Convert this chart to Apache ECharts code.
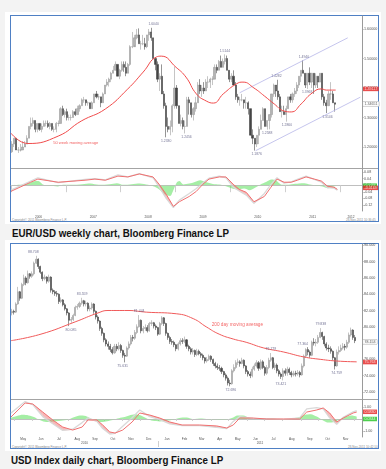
<!DOCTYPE html>
<html><head><meta charset="utf-8">
<script src="https://cdn.jsdelivr.net/npm/echarts@6/dist/echarts.min.js"></script>
<style>
body{margin:0;width:386px;height:469px;background:#f3f3f3;position:relative;overflow:hidden;font-family:"Liberation Sans",Arial,sans-serif}
.box{position:absolute;background:#fff}
.frame{position:absolute;border:1px solid #4f80c4;box-sizing:border-box}
.cap{position:absolute;font-weight:bold;font-size:10.5px;line-height:10.5px;color:#111;white-space:nowrap;transform:scaleX(0.93);transform-origin:0 0}
.sep{position:absolute;background:#a4a4a4}
.tiny{position:absolute;font-size:3px;line-height:3px;color:#8a8a8a;white-space:nowrap}
#chart{position:absolute;left:0;top:0;width:386px;height:469px}
</style></head><body>
<div class="box" style="left:5px;top:12px;width:376px;height:212px"></div>
<div class="box" style="left:5px;top:240px;width:376px;height:211px"></div>
<div class="frame" style="left:10px;top:15px;width:369px;height:207px"></div>
<div class="frame" style="left:10px;top:243px;width:369px;height:206px"></div>
<div class="sep" style="left:11px;top:167.5px;width:367px;height:1.6px"></div>
<div class="sep" style="left:11px;top:398.8px;width:367px;height:1.6px"></div>
<div class="tiny" style="left:12px;top:219px">Copyright© 2011 Bloomberg Finance L.P.</div>
<div class="tiny" style="left:346px;top:219px">28-Nov-2011 10:36:45</div>
<div class="tiny" style="left:12px;top:446px">Copyright© 2011 Bloomberg Finance L.P.</div>
<div class="tiny" style="left:348px;top:446px">28-Nov-2011 10:42:10</div>
<div class="cap" style="left:12px;top:228px">EUR/USD weekly chart, Bloomberg Finance LP</div>
<div class="cap" style="left:11px;top:454.6px">USD Index daily chart, Bloomberg Finance LP</div>
<div id="chart"></div>
<script>
// ---------------- EUR/USD weekly (two-week bars) ----------------
const eurStartYear = 2006, eurBarsPerYear = 26, eurOpen0 = 1.184;
const eurClose = [
1.21,1.23,1.19,1.19,1.19,1.20,1.21,1.23,1.27,1.28,1.29,1.26,1.28,1.26,1.27,1.28,1.28,1.27,1.28,1.26,1.26,1.28,1.28,1.33,1.31,1.32,
1.30,1.30,1.30,1.32,1.31,1.33,1.34,1.36,1.36,1.35,1.35,1.33,1.35,1.38,1.37,1.37,1.35,1.38,1.41,1.42,1.43,1.45,1.46,1.48,1.44,1.46,
1.48,1.47,1.45,1.48,1.54,1.54,1.57,1.58,1.55,1.55,1.55,1.54,1.58,1.59,1.57,1.50,1.48,1.43,1.44,1.38,1.34,1.27,1.26,1.27,1.34,1.40,
1.34,1.28,1.29,1.27,1.27,1.36,1.35,1.31,1.33,1.35,1.41,1.39,1.40,1.39,1.42,1.42,1.43,1.43,1.47,1.46,1.49,1.47,1.49,1.50,1.46,1.43,
1.44,1.41,1.37,1.36,1.36,1.36,1.35,1.35,1.33,1.24,1.23,1.21,1.24,1.26,1.29,1.33,1.27,1.29,1.31,1.38,1.41,1.39,1.37,1.32,1.32,1.31,
1.33,1.37,1.36,1.38,1.39,1.41,1.44,1.46,1.45,1.41,1.45,1.42,1.45,1.41,1.44,1.42,1.45,1.37,1.35,1.34,1.38,1.38,1.35,1.345];
const eurHigh = [
1.22,1.23,1.23,1.20,1.21,1.22,1.22,1.24,1.27,1.30,1.30,1.29,1.28,1.28,1.28,1.29,1.29,1.29,1.285,1.28,1.27,1.285,1.29,1.335,1.34,1.325,
1.33,1.31,1.31,1.325,1.33,1.34,1.345,1.365,1.37,1.36,1.355,1.35,1.355,1.38,1.39,1.38,1.37,1.385,1.41,1.43,1.435,1.455,1.475,1.49,1.48,1.465,
1.49,1.49,1.49,1.485,1.545,1.59,1.58,1.60,1.602,1.56,1.58,1.57,1.58,1.60,1.604,1.57,1.50,1.49,1.45,1.48,1.39,1.35,1.30,1.29,1.345,1.472,
1.41,1.34,1.31,1.30,1.29,1.37,1.37,1.35,1.335,1.37,1.42,1.43,1.41,1.42,1.43,1.44,1.435,1.44,1.48,1.48,1.495,1.51,1.50,1.514,1.51,1.46,
1.45,1.46,1.42,1.38,1.37,1.38,1.36,1.37,1.355,1.33,1.26,1.23,1.24,1.27,1.31,1.335,1.33,1.29,1.31,1.38,1.415,1.41,1.428,1.38,1.34,1.34,
1.34,1.37,1.38,1.385,1.40,1.42,1.44,1.46,1.494,1.45,1.45,1.47,1.45,1.45,1.45,1.44,1.45,1.45,1.38,1.36,1.39,1.42,1.39,1.35];
const eurLow = [
1.18,1.20,1.19,1.18,1.185,1.19,1.20,1.21,1.23,1.26,1.27,1.25,1.25,1.255,1.25,1.27,1.27,1.265,1.26,1.255,1.25,1.25,1.27,1.28,1.305,1.30,
1.29,1.29,1.29,1.30,1.305,1.31,1.32,1.34,1.35,1.34,1.34,1.33,1.33,1.35,1.365,1.36,1.335,1.35,1.38,1.405,1.405,1.42,1.45,1.46,1.44,1.43,
1.455,1.455,1.44,1.45,1.475,1.535,1.545,1.565,1.55,1.53,1.545,1.53,1.535,1.56,1.56,1.50,1.46,1.42,1.39,1.38,1.33,1.233,1.25,1.24,1.25,1.33,
1.33,1.28,1.27,1.26,1.246,1.27,1.31,1.30,1.29,1.32,1.35,1.38,1.37,1.38,1.39,1.40,1.40,1.41,1.43,1.45,1.46,1.47,1.47,1.48,1.46,1.42,
1.42,1.41,1.36,1.35,1.34,1.355,1.33,1.33,1.31,1.24,1.21,1.188,1.20,1.21,1.26,1.29,1.27,1.259,1.26,1.30,1.37,1.37,1.36,1.32,1.30,1.31,
1.286,1.33,1.35,1.35,1.37,1.38,1.40,1.42,1.45,1.40,1.397,1.41,1.40,1.38,1.40,1.40,1.42,1.36,1.34,1.315,1.34,1.36,1.35,1.32];
// 50 week moving average
const eurMaX = [2006.0,2006.31,2006.86,2007.28,2007.72,2008.13,2008.41,2008.65,2008.74,2009.01,2009.19,2009.38,2009.56,2009.69,2009.87,2010.11,2010.23,2010.43,2010.62,2010.80,2010.98,2011.11,2011.29,2011.47,2011.66,2011.75,2011.92];
const eurMa  = [1.247,1.212,1.237,1.288,1.329,1.397,1.454,1.505,1.508,1.470,1.437,1.380,1.356,1.349,1.380,1.414,1.420,1.400,1.373,1.346,1.322,1.319,1.346,1.380,1.397,1.393,1.393];
// trend channel
const eurChanUpper = [[2010.17,1.384],[2012.14,1.570]];
const eurChanLower = [[2010.46,1.1876],[2012.37,1.369]];
// indicator panel
const eurIndX   = [2006.0,2006.36,2006.49,2006.86,2007.35,2007.53,2007.72,2007.95,2008.13,2008.34,2008.59,2008.70,2008.83,2008.96,2009.07,2009.25,2009.38,2009.50,2009.61,2009.80,2009.92,2010.05,2010.16,2010.29,2010.43,2010.62,2010.74,2010.85,2010.98,2011.11,2011.22,2011.38,2011.53,2011.66,2011.77,2011.89,2011.95];
const eurSignal = [-0.037,0.018,0.037,0.018,0.03,0.037,0.03,0.055,0.05,0.068,0.05,0.006,-0.055,-0.128,-0.1,-0.068,-0.037,0.006,0.037,0.05,0.05,0.006,-0.025,-0.043,-0.1,-0.068,-0.012,0.037,0.018,0.018,0.03,0.05,0.037,0.025,-0.006,-0.012,-0.025];
const eurMacd   = [-0.03,0.025,0.045,0.015,0.035,0.04,0.032,0.062,0.05,0.07,0.045,-0.01,-0.08,-0.135,-0.09,-0.05,-0.02,0.015,0.042,0.055,0.045,-0.01,-0.035,-0.06,-0.11,-0.05,0.005,0.045,0.012,0.02,0.035,0.055,0.035,0.018,-0.015,-0.018,-0.03];
const eurHistX = [2006.0,2006.15,2006.3,2006.4,2006.5,2006.58,2006.7,2006.85,2006.95,2007.1,2007.3,2007.45,2007.6,2007.8,2007.93,2008.05,2008.2,2008.35,2008.5,2008.62,2008.72,2008.8,2008.9,2008.96,2009.02,2009.07,2009.14,2009.25,2009.35,2009.45,2009.55,2009.68,2009.8,2009.92,2010.02,2010.12,2010.25,2010.35,2010.45,2010.55,2010.65,2010.75,2010.83,2010.92,2011.0,2011.12,2011.25,2011.35,2011.45,2011.57,2011.68,2011.78,2011.87,2011.95];
const eurHist  = [0,0.003,0.008,0.022,0.025,0.005,-0.004,-0.008,0.003,0.002,0.006,0.01,0.002,0.006,0.012,0.002,0.006,0.01,0.002,-0.01,-0.03,-0.055,-0.065,-0.03,0.015,0.025,0.005,0.01,0.02,0.03,0.02,0.008,0.004,-0.006,-0.018,-0.025,-0.02,-0.03,-0.015,0.005,0.02,0.035,0.03,0.005,0.002,0.006,0.01,0.012,0.004,-0.003,-0.008,-0.018,-0.01,-0.004];
const eurNotes = [
 ['1.6040',2008.6,1.604,'top'],['1.5144',2009.9,1.5144,'top'],['1.2330',2008.83,1.233,'bottom'],
 ['1.2456',2009.2,1.2456,'bottom'],['1.1876',2010.48,1.1876,'bottom'],['1.2588',2010.67,1.2588,'bottom'],
 ['1.4282',2010.84,1.4282,'top'],['1.2860',2011.03,1.286,'bottom'],['1.4940',2011.34,1.494,'top'],
 ['1.3968',2011.4,1.3968,'bottom'],['1.3146',2011.77,1.3146,'bottom']];
const eurPriceTicks = [1.2,1.3,1.4,1.5,1.6];
const eurIndTicks = [0.08,0.04,0,-0.04,-0.08,-0.12];
const eurYearTicks = [2006,2007,2008,2009,2010,2011,2012];
const eurYearLabelPos = [2006.5,2007.5,2008.5,2009.5,2010.5,2011.5,2012.2];

// ---------------- USD index daily (half-week bars) ----------------
const dxyStartDay = 116, dxyStep = 3.5, dxyOpen0 = 81.7; // days since 1 Jan 2010
const dxyClose = [
81.9,81.8,82.8,84.3,83.5,85.2,86.0,85.4,86.5,86.2,86.5,87.8,88.3,87.4,86.7,85.9,86.1,85.6,86.1,84.5,
84.3,84.1,84.0,83.1,83.3,82.7,82.2,81.7,80.8,80.9,81.4,82.4,82.5,82.9,83.2,82.8,82.9,82.2,82.3,82.8,
81.9,81.2,80.7,79.8,79.2,78.4,77.9,77.6,77.2,76.8,77.6,77.3,77.7,77.1,76.5,76.4,77.4,77.9,78.7,78.6,
79.3,80.0,80.8,79.5,79.8,79.9,79.5,80.4,80.5,80.1,79.9,79.1,
80.4,81.1,80.4,79.2,78.7,78.2,78.1,77.8,77.3,77.9,78.3,78.2,78.4,77.6,77.3,76.9,77.1,76.6,77.0,76.7,
76.5,76.2,75.8,76.0,76.4,76.0,75.5,75.2,75.0,74.9,74.5,74.1,73.7,73.1,73.0,74.6,75.0,75.6,75.7,75.5,
75.9,75.2,74.5,74.2,74.0,74.8,75.2,75.6,74.9,75.7,75.0,74.3,75.0,75.9,76.2,75.0,75.3,74.6,74.2,73.9,
74.6,74.3,74.8,74.4,74.1,74.3,74.2,74.4,74.1,75.2,76.4,77.2,76.9,76.5,78.1,78.0,78.1,78.7,79.3,78.8,
77.9,77.4,77.3,77.0,76.2,75.2,76.9,77.1,77.4,77.6,77.5,78.1,79.0,79.6,78.7,78.3];
const dxyHigh = [
82.2,82.1,83.0,84.9,84.4,85.4,86.4,86.2,86.9,86.6,86.8,88.0,88.71,88.4,87.5,86.8,86.4,86.2,86.4,86.2,
84.7,84.5,84.4,84.1,83.6,83.4,82.9,82.3,81.8,81.2,81.6,82.6,82.8,83.1,83.56,83.3,83.2,83.0,82.6,83.0,
82.9,82.0,81.4,80.8,80.0,79.3,78.6,78.2,77.9,77.5,77.9,77.9,78.1,77.9,77.2,76.8,77.6,78.2,79.0,79.0,
79.6,80.3,81.44,80.9,80.1,80.3,80.2,80.6,80.8,80.6,80.3,80.0,
80.6,81.3,81.2,80.5,79.3,78.9,78.5,78.3,77.9,78.1,78.6,78.6,78.8,78.5,77.8,77.5,77.4,77.2,77.3,77.2,
76.9,76.7,76.3,76.3,76.6,76.5,76.1,75.7,75.5,75.3,75.1,74.6,74.3,73.9,73.5,74.8,75.4,75.9,76.1,75.9,
76.2,76.0,75.3,74.7,74.5,75.1,75.5,75.9,75.8,76.0,75.9,75.2,75.3,76.2,76.78,76.3,75.6,75.5,74.8,74.4,
74.9,74.9,75.1,75.0,74.6,74.6,74.6,74.7,74.6,75.5,76.6,77.364,77.5,77.1,78.3,78.6,78.5,79.0,79.84,79.4,
78.9,78.1,77.8,77.6,77.1,76.3,77.2,77.6,77.8,78.0,77.9,78.4,79.3,79.9,79.7,79.0];
const dxyLow = [
81.4,81.5,81.7,82.7,83.2,83.4,85.0,85.1,85.3,85.9,86.0,86.3,87.7,87.1,86.5,85.6,85.7,85.3,85.4,84.2,
84.0,83.8,83.7,82.8,82.9,82.5,82.0,81.4,80.085,80.5,80.7,81.3,82.1,82.3,82.7,82.5,82.5,81.9,81.9,82.1,
81.6,80.9,80.4,79.5,78.9,78.1,77.6,77.2,76.9,76.6,76.7,77.0,77.1,76.8,76.2,75.631,76.3,77.2,77.7,78.2,
78.4,79.1,79.9,79.2,79.2,79.5,79.3,79.4,80.1,79.8,79.6,78.9,
79.0,80.2,80.1,78.9,78.4,77.9,77.8,77.5,77.0,77.1,77.7,77.9,78.0,77.3,77.0,76.6,76.6,76.3,76.4,76.5,
76.2,75.9,75.5,75.6,75.8,75.7,75.2,74.9,74.7,74.6,74.2,73.8,73.4,72.8,72.696,72.9,74.4,74.8,75.3,75.1,
75.4,74.9,74.2,73.9,73.7,73.8,74.6,75.0,74.6,74.7,74.8,74.0,74.1,74.8,75.7,74.8,74.7,74.3,73.9,73.6,
73.421,74.0,74.0,74.1,73.8,73.9,73.9,74.0,73.8,74.0,75.0,76.2,76.5,76.2,76.4,77.7,77.6,77.9,78.6,78.4,
77.6,77.1,76.9,76.7,75.9,74.76,75.1,76.6,76.9,77.2,77.1,77.3,77.9,78.8,78.4,78.0];
// 200 day moving average
const dxyMaX = [115,166,224,263,280,314,345,396,425,447,469,493,515,545,579,613,642,669,703];
const dxyMa  = [78.3,79.1,80.6,81.7,82.0,82.0,81.8,81.6,81.0,80.0,79.1,78.5,78.1,77.4,76.9,76.3,76.0,75.8,75.7];
const dxyIndX   = [115,139,152,169,186,203,220,236,246,261,271,283,292,305,321,334,351,368,385,406,436,465,482,493,504,527,550,578,606,618,635,646,657,669,680,697,703];
const dxySignal = [0.17,1.33,1.25,0.58,-0.08,-0.67,-0.92,-0.67,-0.08,-0.08,-0.5,-1.08,-1.17,-0.92,-0.25,0.5,0.33,0.08,-0.25,-0.5,-0.5,-0.58,-0.75,-0.5,0.08,0.08,0,0,0,0.58,0.75,0.92,0.5,-0.25,0.08,0.5,0.58];
const dxyMacd   = [0.5,1.45,1.2,0.2,-0.4,-0.95,-0.85,-0.3,0.1,-0.2,-0.8,-1.25,-1.2,-0.6,0.1,0.75,0.2,-0.05,-0.4,-0.55,-0.55,-0.7,-0.8,-0.2,0.2,0.05,0.02,-0.03,0.1,0.85,0.95,0.85,0.1,-0.45,0.15,0.6,0.7];
const dxyHistX = [115,125,135,145,155,162,170,180,190,200,212,222,232,242,250,258,266,276,286,296,306,316,326,336,346,356,368,380,392,404,414,424,440,456,470,482,492,500,510,520,530,545,560,575,590,605,615,625,635,645,655,665,675,685,695,703];
const dxyHist  = [0.1,0.25,0.35,0.3,0.15,-0.05,-0.2,-0.25,-0.2,-0.15,-0.05,0.15,0.3,0.25,0.05,-0.1,-0.25,-0.2,-0.1,0.05,0.15,0.3,0.4,0.3,0.05,-0.15,-0.2,-0.15,-0.05,0.1,0.12,0,0.05,-0.05,-0.08,-0.05,0.1,0.3,0.3,0.1,0,0.05,0.05,-0.03,0.03,0.15,0.35,0.4,0.2,-0.1,-0.3,-0.25,0,0.2,0.3,0.2];
const dxyNotes = [
 ['88.708',153,88.708,'top'],['80.085',217,80.085,'bottom'],['83.559',236,83.559,'top'],
 ['75.631',305,75.631,'bottom'],['81.444',333,81.444,'top'],['72.696',489,72.696,'bottom'],
 ['76.779',557,76.779,'top'],['73.421',574,73.421,'bottom'],['77.364',611,77.364,'top'],
 ['79.838',642,79.838,'top'],['74.759',669,74.759,'bottom']];
const dxyPriceTicks = [72,74,76,78,80,82,84,86,88,90];
const dxyIndTicks = [1,-1];
const monthNames = ['Jan','Feb','Mar','Apr','May','Jun','Jul','Aug','Sep','Oct','Nov','Dec'];
const yearNames = ['2010','2011'];

// ---------------- build ----------------
const FONT = '"Liberation Sans", Arial, sans-serif';
const DAY0 = Date.UTC(2010,0,1);
const dayOf = (y,m,d) => (Date.UTC(y,m,d) - DAY0) / 864e5;
const eurBars = eurClose.map((c,i) => [eurStartYear + (i+0.5)/eurBarsPerYear, i ? eurClose[i-1] : eurOpen0, c, eurLow[i], eurHigh[i]]);
const dxyBars = dxyClose.map((c,i) => [dxyStartDay + dxyStep*i, i ? dxyClose[i-1] : dxyOpen0, c, dxyLow[i], dxyHigh[i]]);
const zip = (xs, ys) => xs.map((x,i) => [x, ys[i]]);
const monthStarts = [], monthMids = [];
for (let k = 4; k <= 23; k++) {
  const y = 2010 + Math.floor(k/12), m = k % 12;
  monthStarts.push(dayOf(y,m,1));
  if (k <= 22) monthMids.push((dayOf(y,m,1) + dayOf(y,m+1,1)) / 2);
}
const monthOf = v => new Date(DAY0 + v*864e5).getUTCMonth();

function candle(xi, yi, data) {
  return {type:'candlestick', xAxisIndex:xi, yAxisIndex:yi, data, encode:{x:0, y:[1,2,3,4]}, barWidth:'75%',
    itemStyle:{color:'#b4b4b4', color0:'#454545', borderColor:'#959595', borderColor0:'#3c3c3c', borderWidth:0.55}, silent:true};
}
function line(xi, yi, data, color, width, smooth, z) {
  return {type:'line', xAxisIndex:xi, yAxisIndex:yi, data, symbol:'none', smooth: smooth, z: z || 3,
    lineStyle:{color, width}, silent:true};
}
function notes(xi, yi, list, size, color) {
  return {type:'scatter', xAxisIndex:xi, yAxisIndex:yi, symbolSize:1, itemStyle:{color:'rgba(0,0,0,0)'}, silent:true, z:6,
    data: list.map(n => ({name:n[0], value:[n[1], n[2]], label:{position:n[3]}})),
    label:{show:true, formatter:'{b}', fontSize:size, color, distance:1.5, fontFamily:FONT}};
}
function boxes(xi, yi, list) {
  return {type:'scatter', xAxisIndex:xi, yAxisIndex:yi, symbolSize:1, itemStyle:{color:'rgba(0,0,0,0)'}, silent:true, clip:false, z:8,
    data: list.map(b => ({name:b[0], value:[b[1], b[2]], label:{backgroundColor:b[3], color:b[4], borderColor:b[5], borderWidth:b[5]?0.5:0}})),
    label:{show:true, position:'right', distance:0.5, formatter:'{b}', fontSize:3.6, lineHeight:4.2, padding:[0.3,1.5,0,1.5], fontFamily:FONT}};
}
// pink band between signal (red) and macd (grey) where macd is below the signal
function band(xi, yi, xs, sig, macd) {
  const segs = [];
  for (let i = 0; i < xs.length - 1; i++) {
    if (sig[i] > macd[i] || sig[i+1] > macd[i+1]) {
      segs.push([xs[i], sig[i], Math.min(sig[i], macd[i]), xs[i+1], sig[i+1], Math.min(sig[i+1], macd[i+1])]);
    }
  }
  return {type:'custom', xAxisIndex:xi, yAxisIndex:yi, data:segs, silent:true, z:3, clip:true,
    encode:{x:[0,3], y:[1,2,4,5]},
    renderItem:(params, api) => {
      const a = api.coord([api.value(0), api.value(1)]), b = api.coord([api.value(3), api.value(4)]);
      const c = api.coord([api.value(3), api.value(5)]), d = api.coord([api.value(0), api.value(2)]);
      return {type:'polygon', shape:{points:[a,b,c,d]}, style:{fill:'rgba(240,125,125,0.55)', stroke:null}};
    }};
}
function indicator(xi, yi, xs, sig, macd, histX, hist) {
  return [
    {type:'line', xAxisIndex:xi, yAxisIndex:yi, data:zip(histX, hist), symbol:'none', smooth:0.3, silent:true, z:2,
      lineStyle:{width:0}, areaStyle:{color:'rgba(95,225,95,0.8)', origin:0},
      markLine:{symbol:'none', silent:true, label:{show:false}, lineStyle:{color:'#c8c8c8', width:0.7, type:'solid'}, data:[{yAxis:0}]}},
    band(xi, yi, xs, sig, macd),
    line(xi, yi, zip(xs, macd), '#d9d9d9', 1.3, false, 4),
    line(xi, yi, zip(xs, sig), '#f07070', 1, false, 5)
  ];
}
const axLabel = (vals, fmt, size) => ({show:true, customValues:vals, formatter:fmt, fontSize:size, color:'#555', margin:2, fontFamily:FONT});
function rightY(grid, min, max, ticks, fmt) {
  return {type:'value', gridIndex:grid, position:'right', min, max, scale:true,
    axisLine:{show:true, lineStyle:{color:'#9a9a9a', width:1}},
    axisTick:{show:true, customValues:ticks, length:1.5, lineStyle:{color:'#9a9a9a'}},
    axisLabel:axLabel(ticks, fmt, 3.7), splitLine:{show:false}};
}

const option = {
  animation:false,
  backgroundColor:'transparent',
  textStyle:{fontFamily:FONT},
  grid:[
    {left:11, top:16, width:351, height:152},
    {left:11, top:169, width:351, height:42},
    {left:11, top:244, width:351, height:155},
    {left:11, top:400, width:351, height:37}
  ],
  xAxis:[
    {type:'value', gridIndex:0, min:2006, max:2012.4, show:false},
    {type:'value', gridIndex:1, min:2006, max:2012.4,
      axisLine:{show:true, lineStyle:{color:'#a8a8a8', width:1}},
      axisTick:{show:true, customValues:eurYearTicks, length:7, lineStyle:{color:'#cfcfcf'}},
      axisLabel:{show:true, customValues:eurYearLabelPos, formatter:v => String(Math.floor(v)), fontSize:3.2, color:'#555', margin:4.5, fontFamily:FONT},
      splitLine:{show:false}},
    {type:'value', gridIndex:2, min:115, max:712, show:false},
    {type:'value', gridIndex:3, min:115, max:712,
      axisLine:{show:true, lineStyle:{color:'#a8a8a8', width:1}},
      axisTick:{show:true, customValues:monthStarts, length:2, lineStyle:{color:'#cfcfcf'}},
      axisLabel:{show:true, customValues:monthMids, formatter:v => monthNames[monthOf(v)], fontSize:3.1, color:'#555', margin:1, fontFamily:FONT},
      splitLine:{show:false}},
    {type:'value', gridIndex:3, min:115, max:712, position:'bottom', offset:4,
      axisLine:{show:false},
      axisTick:{show:true, customValues:[dayOf(2011,0,1)], length:6, lineStyle:{color:'#cfcfcf'}},
      axisLabel:{show:true, customValues:[(115+dayOf(2011,0,1))/2, (dayOf(2011,0,1)+712)/2], formatter:v => yearNames[v < dayOf(2011,0,1) ? 0 : 1], fontSize:3.1, color:'#555', margin:0.5, fontFamily:FONT},
      splitLine:{show:false}}
  ],
  yAxis:[
    rightY(0, 1.129, 1.644, eurPriceTicks, v => v.toFixed(5)),
    rightY(1, -0.156, 0.098, eurIndTicks, v => v.toFixed(2)),
    rightY(2, 71.14, 90.16, dxyPriceTicks, v => v.toFixed(3)),
    rightY(3, -1.5, 1.583, dxyIndTicks, v => v.toFixed(2))
  ],
  series:[
    candle(0, 0, eurBars),
    line(0, 0, zip(eurMaX, eurMa), '#f04a4a', 1, 0.5, 4),
    line(0, 0, eurChanUpper, '#b6b6e8', 0.8, false, 3),
    line(0, 0, eurChanLower, '#b6b6e8', 0.8, false, 3),
    notes(0, 0, eurNotes, 3.4, '#50507a'),
    notes(0, 0, [['50 week moving average', 2007.18, 1.2136, 'inside']], 4.05, '#ee3333'),
    boxes(0, 0, [['1.39117', 2012.4, 1.397, '#e32222', '#fff', null], ['1.34651', 2012.4, 1.346, '#ffffff', '#333', '#aaaaaa']]),
    ...indicator(1, 1, eurIndX, eurSignal, eurMacd, eurHistX, eurHist),
    boxes(1, 1, [['0.0027', 2012.4, -0.003, '#22c322', '#fff', null], ['-0.0169', 2012.4, -0.016, '#e32222', '#fff', null]]),
    candle(2, 2, dxyBars),
    line(2, 2, zip(dxyMaX, dxyMa), '#f05a5a', 1, 0.5, 4),
    notes(2, 2, dxyNotes, 3.5, '#50507a'),
    notes(2, 2, [['200 day moving average', 500, 80.3, 'inside']], 4.7, '#f03c3c'),
    boxes(2, 2, [['78.153', 712, 78.15, '#ffffff', '#333', '#aaaaaa'], ['75.763', 712, 75.67, '#e32222', '#fff', null]]),
    ...indicator(3, 3, dxyIndX, dxySignal, dxyMacd, dxyHistX, dxyHist),
    boxes(3, 3, [['0.5830', 712, 0.6, '#e32222', '#fff', null], ['0.0344', 712, 0.0, '#22c322', '#fff', null]])
  ]
};
const chart = echarts.init(document.getElementById('chart'));
chart.setOption(option);
</script>
</body></html>
